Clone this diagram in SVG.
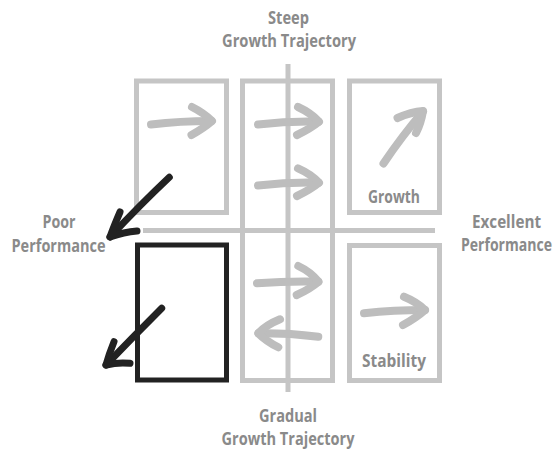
<svg xmlns="http://www.w3.org/2000/svg" width="556" height="451" viewBox="0 0 556 451">
  <style>
    .frame { fill: none; stroke: #c5c5c5; stroke-width: 5; }
    .focus { fill: none; stroke: #222222; stroke-width: 5; }
    .axis { fill: none; stroke: #c5c5c5; stroke-width: 5; }
    .arrow { fill: none; stroke: #bdbdbd; stroke-width: 8; stroke-linecap: round; stroke-linejoin: round; }
    .arrow-dark { fill: none; stroke: #222222; stroke-width: 7; stroke-linecap: round; stroke-linejoin: round; }
    .label { font-family: "Open Sans", "Noto Sans", "DejaVu Sans", sans-serif; font-weight: 700; font-size: 18px; fill: #8a8a8a; text-anchor: middle; }
  </style>
  <rect width="556" height="451" fill="#ffffff"/>

  <!-- axes -->
  <g id="axes">
    <line class="axis" x1="288" y1="64" x2="288" y2="392"/>
    <line class="axis" x1="143" y1="230.5" x2="435" y2="230.5"/>
  </g>

  <!-- quadrant cells -->
  <g id="cell-top-left">
    <rect class="frame" x="136.5" y="81" width="90" height="131.5"/>
  </g>
  <g id="cell-middle">
    <rect class="frame" x="242.5" y="81" width="90" height="299.5"/>
  </g>
  <g id="cell-growth">
    <rect class="frame" x="349.5" y="81" width="90" height="131.5"/>
    <text class="label" x="394" y="203.3" textLength="52" lengthAdjust="spacingAndGlyphs">Growth</text>
  </g>
  <g id="cell-bottom-left">
    <rect class="focus" x="137.5" y="245" width="89" height="135"/>
  </g>
  <g id="cell-stability">
    <rect class="frame" x="349.5" y="245.5" width="90" height="135"/>
    <text class="label" x="394" y="367" textLength="64" lengthAdjust="spacingAndGlyphs">Stability</text>
  </g>

  <!-- axis labels -->
  <g id="label-steep">
    <text class="label" x="288.5" y="23.5" textLength="41" lengthAdjust="spacingAndGlyphs">Steep</text>
    <text class="label" x="289" y="46.5" textLength="134" lengthAdjust="spacingAndGlyphs">Growth Trajectory</text>
  </g>
  <g id="label-gradual">
    <text class="label" x="288" y="422" textLength="58" lengthAdjust="spacingAndGlyphs">Gradual</text>
    <text class="label" x="288" y="445" textLength="133" lengthAdjust="spacingAndGlyphs">Growth Trajectory</text>
  </g>
  <g id="label-poor">
    <text class="label" x="59" y="228" textLength="33" lengthAdjust="spacingAndGlyphs">Poor</text>
    <text class="label" x="58.5" y="251.5" textLength="94" lengthAdjust="spacingAndGlyphs">Performance</text>
  </g>
  <!-- condensed horizontally so it stays clear of the right edge -->
  <g id="label-excellent" transform="translate(506.5,0) scale(0.8,1)">
    <text class="label" x="0" y="228" textLength="86.25" lengthAdjust="spacingAndGlyphs">Excellent</text>
    <text class="label" x="0" y="251.5" textLength="113.75" lengthAdjust="spacingAndGlyphs">Performance</text>
  </g>

  <!-- hand-drawn trajectory arrows -->
  <g id="connectors">
    <!-- top-left cell -->
    <path class="arrow" d="M151,124.5 Q180,121 211.5,121"/>
    <path class="arrow" d="M192,107 Q204,113 212,121 Q204,128 191.5,135"/>
    <!-- middle cell, upper half -->
    <path class="arrow" d="M258,124.5 Q288,121 318.5,121.7"/>
    <path class="arrow" d="M298,107 Q311,113 319,121.7 Q310,129 297,135"/>
    <path class="arrow" d="M258,185.5 Q288,182 318.5,182.7"/>
    <path class="arrow" d="M298,168.3 Q311,174 319,182.7 Q310,190 297,196"/>
    <!-- growth cell -->
    <path class="arrow" d="M383.5,163.5 Q402,136 423,111.5"/>
    <path class="arrow" d="M397.5,118 Q411,112 423,111 Q421,123 416,133"/>
    <!-- middle cell, lower half -->
    <path class="arrow" d="M257,283.3 Q288,281 318.3,281.7"/>
    <path class="arrow" d="M298.3,266 Q311,272 318.5,281.7 Q310,289 296.7,295"/>
    <path class="arrow" d="M318.3,336.7 Q288,333 258.5,333.3"/>
    <path class="arrow" d="M280,319.3 Q266,325 258.3,333.3 Q266,341 278.3,347.3"/>
    <!-- stability cell -->
    <path class="arrow" d="M364,313.3 Q394,310 425,310"/>
    <path class="arrow" d="M404,296.7 Q417,302 425,310 Q416,318 403,325"/>
    <!-- exits toward poor performance -->
    <path class="arrow-dark" d="M169.3,177.3 Q140,205 110,237"/>
    <path class="arrow-dark" d="M120,212 Q114,226 110,237 Q124,232 137,231"/>
    <path class="arrow-dark" d="M161.7,308.3 Q134,336 106,365"/>
    <path class="arrow-dark" d="M114,341.7 Q109,354 106,365 Q118,362 130,363.3"/>
  </g>
</svg>
